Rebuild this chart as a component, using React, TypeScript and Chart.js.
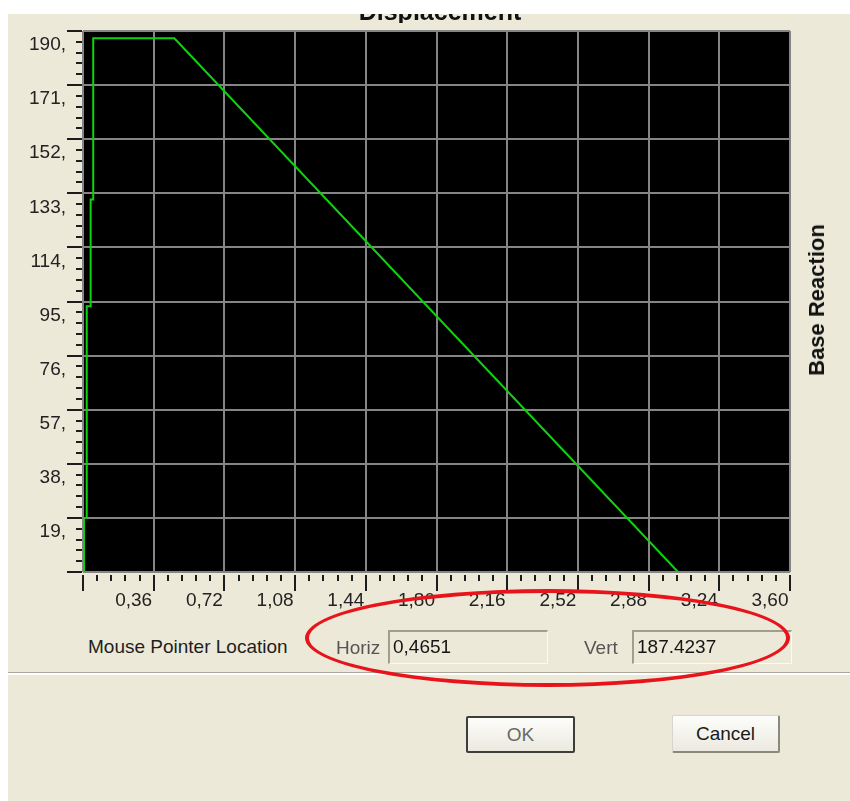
import React, { useEffect, useRef } from 'react';
import { Chart, registerables } from 'chart.js';

Chart.register(...registerables);

// Pushover curve: displacement (x) vs base reaction (y)
const dispX = [0.005, 0.005, 0.019, 0.019, 0.039, 0.039, 0.052, 0.052, 0.4651, 3.03];
const reactY = [0, 19, 19, 93.3, 93.3, 130.8, 130.8, 187.42, 187.42, 0];

const xTickValues = [0, 0.36, 0.72, 1.08, 1.44, 1.8, 2.16, 2.52, 2.88, 3.24, 3.6];
const yTickValues = [0, 19, 38, 57, 76, 95, 114, 133, 152, 171, 190];
const MINOR_DIV = 5;

const BEIGE = '#ECE9D8';
const FONT = '"Liberation Sans", Arial, sans-serif';
const GRID = '#858585';
const LINE = '#0fd20f';

const plotBg = {
  id: 'plotBg',
  beforeDraw(chart: any) {
    const { ctx, chartArea: a } = chart;
    ctx.save();
    ctx.fillStyle = '#000';
    ctx.fillRect(a.left, a.top, a.right - a.left, a.bottom - a.top);
    ctx.restore();
  },
};

const tickMarks = {
  id: 'tickMarks',
  afterDraw(chart: any) {
    const { ctx, chartArea: a, scales } = chart;
    const xs = scales.x;
    const ys = scales.y;
    ctx.save();
    ctx.strokeStyle = '#1c1c1c';
    ctx.lineWidth = 2;
    const drawY = (v: number, major: boolean) => {
      const p = Math.round(ys.getPixelForValue(v));
      ctx.beginPath();
      ctx.moveTo(a.left - (major ? 16 : 7), p);
      ctx.lineTo(a.left - 1, p);
      ctx.stroke();
    };
    const drawX = (v: number, major: boolean) => {
      const p = Math.round(xs.getPixelForValue(v));
      ctx.beginPath();
      ctx.moveTo(p, a.bottom + 3);
      ctx.lineTo(p, a.bottom + (major ? 19 : 9));
      ctx.stroke();
    };
    for (let i = 0; i < yTickValues.length; i++) {
      drawY(yTickValues[i], true);
      if (i < yTickValues.length - 1) {
        const step = (yTickValues[i + 1] - yTickValues[i]) / MINOR_DIV;
        for (let k = 1; k < MINOR_DIV; k++) drawY(yTickValues[i] + k * step, false);
      }
    }
    for (let i = 0; i < xTickValues.length; i++) {
      drawX(xTickValues[i], true);
      if (i < xTickValues.length - 1) {
        const step = (xTickValues[i + 1] - xTickValues[i]) / MINOR_DIV;
        for (let k = 1; k < MINOR_DIV; k++) drawX(xTickValues[i] + k * step, false);
      }
    }
    ctx.restore();
  },
};

function ChartCanvas() {
  const ref = useRef<HTMLCanvasElement | null>(null);
  useEffect(() => {
    if (!ref.current) return;
    const chart = new Chart(ref.current, {
      type: 'line',
      data: {
        datasets: [
          {
            data: dispX.map((x, i) => ({ x, y: reactY[i] })),
            borderColor: LINE,
            borderWidth: 2,
            pointRadius: 0,
            tension: 0,
            fill: false,
          },
        ],
      },
      options: {
        animation: false,
        responsive: false,
        maintainAspectRatio: false,
        layout: { padding: { top: 17, right: 60, left: 0, bottom: 0 } },
        plugins: {
          legend: { display: false },
          tooltip: { enabled: false },
          title: { display: false },
        },
        scales: {
          x: {
            type: 'linear',
            min: 0,
            max: 3.6,
            afterBuildTicks: (s: any) => {
              s.ticks = xTickValues.map((v) => ({ value: v }));
            },
            afterFit: (s: any) => {
              s.height = 62;
              s.paddingLeft = 0;
              s.paddingRight = 0;
            },
            grid: { color: GRID, lineWidth: 2, drawTicks: false },
            border: { display: false },
            ticks: {
              padding: 17,
              labelOffset: -20,
              maxRotation: 0,
              autoSkip: false,
              color: '#222',
              font: { family: FONT, size: 19 },
              callback: (v: any) => (Number(v) === 0 ? '' : Number(v).toFixed(2).replace('.', ',')),
            },
          },
          y: {
            type: 'linear',
            min: 0,
            max: 190,
            afterBuildTicks: (s: any) => {
              s.ticks = yTickValues.map((v) => ({ value: v }));
            },
            afterFit: (s: any) => {
              s.width = 83;
              s.paddingTop = 0;
              s.paddingBottom = 0;
            },
            grid: { color: GRID, lineWidth: 2, drawTicks: false },
            border: { display: false },
            ticks: {
              padding: 17,
              labelOffset: 14,
              autoSkip: false,
              color: '#222',
              font: { family: FONT, size: 19 },
              callback: (v: any) => (Number(v) === 0 ? '' : `${Math.round(Number(v))},`),
            },
          },
        },
      },
      plugins: [plotBg, tickMarks],
    } as any);
    return () => chart.destroy();
  }, []);
  return (
    <canvas
      ref={ref}
      width={850}
      height={620}
      style={{ position: 'absolute', left: 0, top: 14, width: 850, height: 620 }}
    />
  );
}

const txt = (left: number, cy: number, extra: React.CSSProperties = {}): React.CSSProperties => ({
  position: 'absolute',
  left,
  top: cy - 11,
  height: 22,
  lineHeight: '22px',
  fontSize: 19,
  whiteSpace: 'nowrap',
  color: '#1e1e1e',
  ...extra,
});

const boxStyle = (left: number, width: number): React.CSSProperties => ({
  position: 'absolute',
  left,
  top: 630,
  width,
  height: 34,
  boxSizing: 'border-box',
  borderTop: '2px solid #a19e90',
  borderLeft: '2px solid #a19e90',
  borderBottom: '1px solid #fbfaf5',
  borderRight: '1px solid #fbfaf5',
  background: BEIGE,
  paddingLeft: 3,
  lineHeight: '30px',
  fontSize: 19,
  color: '#151515',
  whiteSpace: 'nowrap',
});

export default function App() {
  return (
    <div
      style={{
        position: 'fixed',
        left: 0,
        top: 0,
        width: 850,
        height: 801,
        background: '#fff',
        overflow: 'hidden',
        fontFamily: FONT,
      }}
    >
      <div style={{ position: 'absolute', left: 8, top: 14, right: 0, bottom: 0, background: BEIGE }} />
      <ChartCanvas />
      {/* clipped title */}
      <div style={{ position: 'absolute', left: 290, top: 14, width: 300, height: 9, overflow: 'hidden' }}>
        <div
          style={{
            position: 'absolute',
            left: 0,
            width: 300,
            top: -15,
            textAlign: 'center',
            fontWeight: 'bold',
            fontSize: 25,
            lineHeight: '25px',
            color: '#111',
          }}
        >
          Displacement
        </div>
      </div>
      <div
        style={{
          position: 'absolute',
          left: 817,
          top: 300,
          transform: 'translate(-50%, -50%) rotate(-90deg)',
          fontWeight: 'bold',
          fontSize: 22,
          whiteSpace: 'nowrap',
          color: '#111',
        }}
      >
        Base Reaction
      </div>
      <div style={txt(88, 647)}>Mouse Pointer Location</div>
      <div style={txt(336, 648, { color: '#555' })}>Horiz</div>
      <div style={boxStyle(388, 160)}>0,4651</div>
      <div style={txt(584, 648, { color: '#555' })}>Vert</div>
      <div style={boxStyle(632, 160)}>187.4237</div>
      <div style={{ position: 'absolute', left: 8, right: 0, top: 672, height: 1, background: '#aca899' }} />
      <div style={{ position: 'absolute', left: 8, right: 0, top: 673, height: 2, background: '#fff' }} />
      <div
        style={{
          position: 'absolute',
          left: 466,
          top: 716,
          width: 109,
          height: 37,
          boxSizing: 'border-box',
          border: '2px solid #3d3d3a',
          borderRadius: 2,
          background: 'linear-gradient(#fdfdfb, #ebe9df)',
          textAlign: 'center',
          lineHeight: '33px',
          fontSize: 19,
          color: '#6a6a6a',
        }}
      >
        OK
      </div>
      <div
        style={{
          position: 'absolute',
          left: 672,
          top: 715,
          width: 108,
          height: 38,
          boxSizing: 'border-box',
          borderTop: '1px solid #d8d6cc',
          borderLeft: '1px solid #d8d6cc',
          borderRight: '2px solid #8b897c',
          borderBottom: '2px solid #8b897c',
          borderRadius: 2,
          background: 'linear-gradient(#fdfdfb, #ebe9df)',
          textAlign: 'center',
          lineHeight: '35px',
          fontSize: 19,
          color: '#1a1a1a',
        }}
      >
        Cancel
      </div>
      <div
        style={{
          position: 'absolute',
          left: 305,
          top: 589,
          width: 485,
          height: 98,
          boxSizing: 'border-box',
          border: '4px solid #e8141c',
          borderRadius: '50%',
        }}
      />
    </div>
  );
}
